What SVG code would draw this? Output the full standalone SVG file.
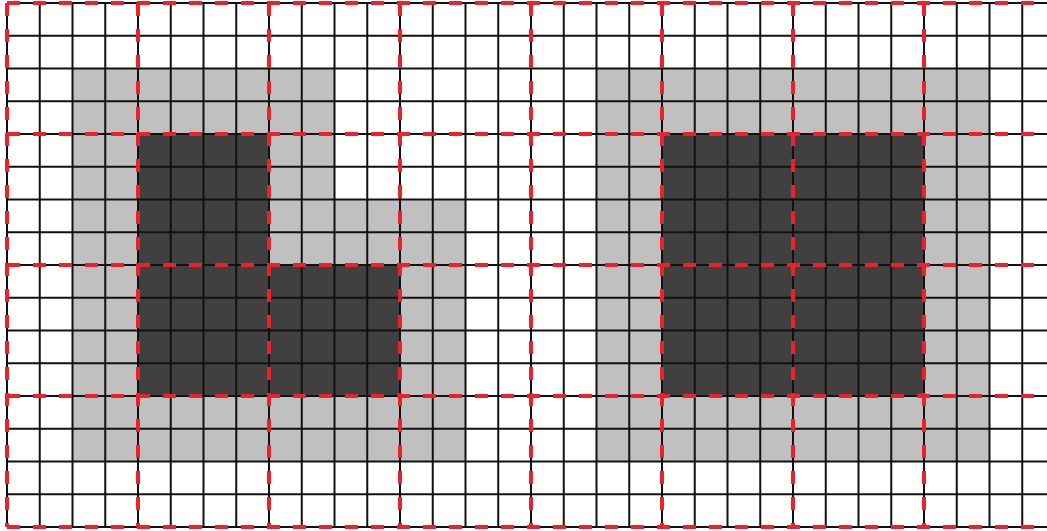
<svg xmlns="http://www.w3.org/2000/svg" width="1047" height="531" viewBox="0 0 1047 531">
<style>
.light{fill:#c0c0c0}
.dark{fill:#404040}
.grid{stroke:#111;stroke-width:2;fill:none}
.major{stroke:#f0202a;stroke-width:4;stroke-dasharray:13 13;fill:none}
</style>
<rect x="0" y="0" width="1047" height="531" fill="#fff"/>
<g id="shading">
<rect class="light" x="72.5" y="68.5" width="262" height="262"/>
<rect class="light" x="72.5" y="199.5" width="393" height="262"/>
<rect class="light" x="596.5" y="68.5" width="393" height="393"/>
<rect class="dark" x="138" y="134" width="131" height="131"/>
<rect class="dark" x="138" y="265" width="262" height="131"/>
<rect class="dark" x="662" y="134" width="262" height="262"/>
</g>
<g id="grid">
<path class="grid" d="M7 3V527M39.75 3V527M72.5 3V527M105.25 3V527M138 3V527M170.75 3V527M203.5 3V527M236.25 3V527M269 3V527M301.75 3V527M334.5 3V527M367.25 3V527M400 3V527M432.75 3V527M465.5 3V527M498.25 3V527M531 3V527M563.75 3V527M596.5 3V527M629.25 3V527M662 3V527M694.75 3V527M727.5 3V527M760.25 3V527M793 3V527M825.75 3V527M858.5 3V527M891.25 3V527M924 3V527M956.75 3V527M989.5 3V527M1022.25 3V527"/>
<path class="grid" d="M7 3H1047M7 35.75H1047M7 68.5H1047M7 101.25H1047M7 134H1047M7 166.75H1047M7 199.5H1047M7 232.25H1047M7 265H1047M7 297.75H1047M7 330.5H1047M7 363.25H1047M7 396H1047M7 428.75H1047M7 461.5H1047M7 494.25H1047M7 527H1047"/>
</g>
<g id="major-grid">
<path class="major" d="M7 3V527M138 3V527M269 3V527M400 3V527M531 3V527M662 3V527M793 3V527M924 3V527"/>
<path class="major" d="M7 3H1047M7 134H1047M7 265H1047M7 396H1047M7 527H1047"/>
</g>
</svg>
